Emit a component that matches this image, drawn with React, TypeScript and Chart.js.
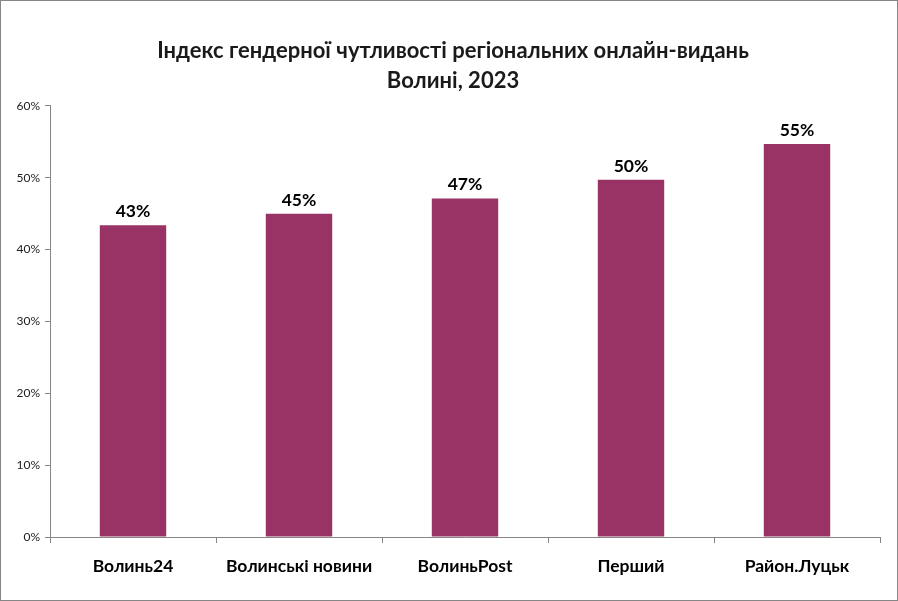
import React, { useEffect, useRef } from "react";
import { Chart, registerables } from "chart.js";

Chart.register(...registerables);

const categories = ["Волинь24", "Волинські новини", "ВолиньPost", "Перший", "Район.Луцьк"];
const values = [43.4, 45.0, 47.1, 49.7, 54.7];
const titleLines = ["Індекс гендерної чутливості регіональних онлайн-видань", "Волині, 2023"];
const barColor = "#993366";
const fontFamily = "Lato, 'Liberation Sans', sans-serif";

const valueLabels = {
  id: "valueLabels",
  afterDatasetsDraw(chart: any) {
    const ctx = chart.ctx;
    const meta = chart.getDatasetMeta(0);
    ctx.save();
    ctx.font = `bold 17.5px ${fontFamily}`;
    ctx.fillStyle = "#000";
    ctx.textAlign = "center";
    ctx.textBaseline = "bottom";
    meta.data.forEach((bar: any, i: number) => {
      ctx.fillText(Math.round(values[i]) + "%", bar.x, bar.y - 5);
    });
    ctx.restore();
  },
};

const titleShift = {
  id: "titleShift",
  afterLayout(chart: any) {
    const t = chart.titleBlock;
    if (t) {
      t.left = 8;
      t.right = chart.width;
    }
  },
};

export default function App() {
  const ref = useRef<HTMLCanvasElement | null>(null);
  useEffect(() => {
    document.body.style.margin = "0";
    if (!ref.current) return;
    const chart = new Chart(ref.current, {
      type: "bar",
      data: {
        labels: categories,
        datasets: [
          {
            data: values,
            backgroundColor: barColor,
            categoryPercentage: 1,
            barPercentage: 0.4,
          },
        ],
      },
      options: {
        animation: false,
        responsive: false,
        maintainAspectRatio: false,
        layout: { padding: { left: 0, right: 17, top: 0, bottom: 0 } },
        plugins: {
          legend: { display: false },
          tooltip: { enabled: false },
          title: {
            display: true,
            text: titleLines,
            color: "#1a1a1a",
            font: { family: fontFamily, size: 22, weight: "bold", lineHeight: 1.36 },
            padding: { top: 35, bottom: 10 },
          },
        },
        scales: {
          x: {
            grid: {
              display: true,
              drawOnChartArea: false,
              drawTicks: true,
              tickLength: 6,
              color: "#868686",
              offset: true,
            },
            border: { color: "#868686", width: 1 },
            ticks: {
              color: "#000",
              font: { family: fontFamily, size: 17.5, weight: "bold" },
              padding: 13,
              maxRotation: 0,
            },
            afterFit(scale: any) {
              scale.height = 63;
            },
          },
          y: {
            min: 0,
            max: 60,
            grid: {
              display: true,
              drawOnChartArea: false,
              drawTicks: true,
              tickLength: 5,
              color: "#868686",
            },
            border: { color: "#868686", width: 1 },
            ticks: {
              stepSize: 10,
              color: "#222",
              font: { family: fontFamily, size: 12 },
              padding: 5,
              callback: (v: any) => v + "%",
            },
            afterFit(scale: any) {
              scale.width = 49;
            },
          },
        },
      },
      plugins: [valueLabels, titleShift],
    });
    return () => chart.destroy();
  }, []);
  return (
    <div
      style={{
        width: 898,
        height: 601,
        border: "1px solid #868686",
        boxSizing: "border-box",
        background: "#fff",
      }}
    >
      <canvas ref={ref} width={896} height={599} style={{ display: "block" }} />
    </div>
  );
}
